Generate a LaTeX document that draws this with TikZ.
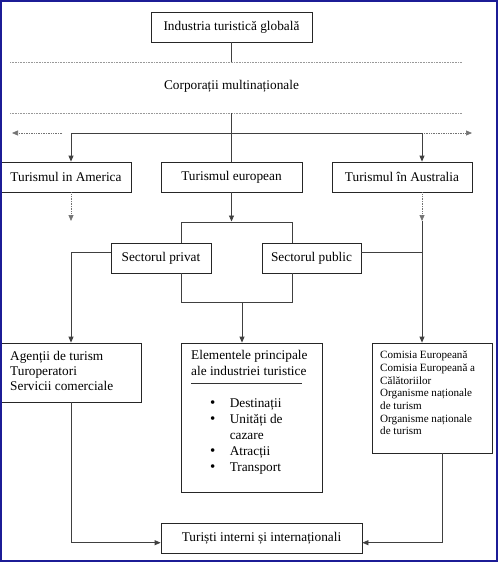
\documentclass[tikz,border=0pt]{standalone}
\usepackage{fontspec}
\setmainfont{Liberation Serif}
\usetikzlibrary{arrows.meta,shadows,calc}
\definecolor{frameblue}{RGB}{28,28,150}
\newcommand{\blt}{{\fontsize{15}{16}\selectfont •}}
\begin{document}
\begin{tikzpicture}[x=1pt,y=1pt,
  box/.style={draw=black!85, line width=0.8pt, fill=white, inner sep=0pt,
    drop shadow={shadow xshift=1.3pt, shadow yshift=-1.3pt, fill=black!30, opacity=1},
    font=\fontsize{13.3}{15}\selectfont},
  conn/.style={draw=black!75, line width=0.8pt},
  arr/.style={conn, -{Triangle[length=6pt,width=5pt]}},
  dotarr/.style={draw=black!55, line width=0.7pt, densely dotted, -{Triangle[length=6pt,width=5pt]}},
  dotline/.style={draw=black!40, line width=0.6pt, densely dotted},
  lbl/.style={inner sep=0pt, font=\fontsize{13.3}{15}\selectfont},
  txt/.style={inner sep=0pt, align=left, anchor=north west}]
\useasboundingbox (0,0) rectangle (498,-562);
\fill[white] (0,0) rectangle (498,-562);

% boxes
\node[box, minimum width=161, minimum height=30] (top) at (231.5,-27) {Industria turistică globală};
\node[lbl] (corp) at (231.5,-86) {Corporații multinaționale};
\node[box, minimum width=130, minimum height=30] (am) at (66,-177) {Turismul in America};
\node[box, minimum width=141, minimum height=30] (eu) at (231.5,-177) {Turismul european};
\node[box, minimum width=140, minimum height=30] (au) at (402,-177) {Turismul în Australia};
\node[box, minimum width=100, minimum height=30] (priv) at (161,-258) {Sectorul privat};
\node[box, minimum width=99, minimum height=30] (pub) at (311.5,-258) {Sectorul public};
\node[box, minimum width=140, minimum height=59] (ag) at (71,-372.5) {};
\node[box, minimum width=141, minimum height=149] (el) at (251.5,-417.5) {};
\node[box, minimum width=120, minimum height=110] (com) at (432,-398) {};
\node[box, minimum width=201, minimum height=30] (tur) at (261.5,-538) {Turiști interni și internaționali};

% box texts
\node[txt, font=\fontsize{13.3}{15}\selectfont] (agT) at (10,-351) {Agenții de turism\\Turoperatori\\Servicii comerciale};
\node[txt, font=\fontsize{13.3}{15.5}\selectfont] (elT) at (191,-350.3) {Elementele principale\\ale industriei turistice};
\node[txt, font=\fontsize{13.3}{16}\selectfont] (elL) at (209.8,-396.5) {%
\begin{tabular}{@{}l@{\hspace{14.5pt}}l@{}}
\blt&Destinații\\
\blt&Unități de\\
 &cazare\\
\blt&Atracții\\
\blt&Transport
\end{tabular}};
\node[txt, font=\fontsize{11.1}{12.7}\selectfont] (comT) at (380,-351) {Comisia Europeană\\Comisia Europeană a\\Călătoriilor\\Organisme naționale\\de turism\\Organisme naționale\\de turism};
\draw[line width=0.8pt, black!80] (191,-383.5) -- (301.7,-383.5);

% dotted lines
\coordinate (d1a) at (10,-62);  \coordinate (d1b) at (462,-62);
\coordinate (d2a) at (10,-113); \coordinate (d2b) at (462,-113);
\draw[dotline] (d1a) -- (d1b);
\draw[dotline] (d2a) -- (d2b);

% top part
\coordinate (t1) at (231.5,-62);
\coordinate (t2) at (231.5,-113);
\coordinate (hc) at (231.5,-133);
\coordinate (hl) at (71,-133);
\coordinate (hr) at (422,-133);
\coordinate (dl1) at (62,-133);
\coordinate (dl2) at (12,-133);
\coordinate (dr1) at (424,-133);
\coordinate (dr2) at (472,-133);
\draw[conn] (top.south) -- (t1);
\draw[conn] (t2) -- (hc) -- (eu.north);
\draw[conn] (hl) -- (hr);
\draw[arr] (hl) -- (hl |- am.north);
\draw[arr] (hr) -- (hr |- au.north);
\draw[dotarr] (dl1) -- (dl2);
\draw[dotarr] (dr1) -- (dr2);

% below country boxes
\coordinate (amd) at (71,-221);
\coordinate (aud) at (422,-221);
\draw[dotarr] (am.south -| amd) -- (amd);
\draw[dotarr] (au.south -| aud) -- (aud);
\draw[arr] (aud) -- (aud |- com.north);

\coordinate (eud) at (231.5,-221.5);
\coordinate (sl) at (181,-222);
\coordinate (sr) at (292,-222);
\draw[arr] (eu.south) -- (eud);
\draw[conn] (sl |- priv.north) -- (sl) -- (sr) -- (sr |- pub.north);

\coordinate (pw) at (71,-252.7);
\draw[conn] (priv.west |- pw) -- (pw);
\draw[arr] (pw) -- (pw |- ag.north);
\coordinate (pe) at (422,-252.7);
\draw[conn] (pub.east |- pe) -- (pe);

\coordinate (bl) at (181,-302);
\coordinate (br) at (292,-302);
\coordinate (bc) at (242,-302);
\draw[conn] (bl |- priv.south) -- (bl) -- (br) -- (br |- pub.south);
\draw[arr] (bc) -- (bc |- el.north);

% bottom
\coordinate (bl2) at (71,-542.7);
\coordinate (br2) at (442,-542.7);
\draw[arr] (bl2 |- ag.south) -- (bl2) -- (bl2 -| tur.west);
\draw[arr] (br2 |- com.south) -- (br2) -- (br2 -| tur.east);

% frame
\draw[frameblue, line width=2pt] (1,-1) rectangle (497,-561);
\end{tikzpicture}
\end{document}
